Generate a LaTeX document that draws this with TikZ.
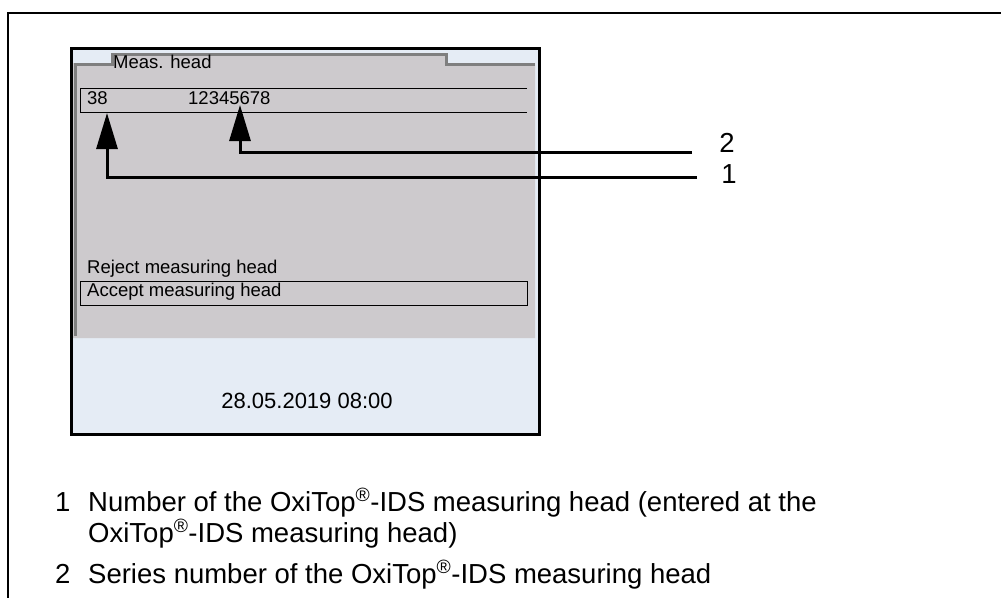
\documentclass[tikz,border=0pt]{standalone}
\usepackage{fontspec}
\setmainfont{Liberation Sans}
\usepackage{tikz}
\usetikzlibrary{arrows.meta,positioning}
\definecolor{screenbg}{HTML}{E5ECF5}
\definecolor{panel}{HTML}{CDCACD}
\definecolor{edge}{HTML}{7F7F7F}

\begin{document}
\begin{tikzpicture}[x=1pt, y=-1pt,
      scr/.style={inner sep=0pt, anchor=base west, font=\fontsize{18.5}{22}\selectfont},
      datum/.style={inner sep=0pt, anchor=base, font=\fontsize{22}{26}\selectfont},
      item/.style={inner sep=0pt, anchor=base west, font=\fontsize{27.5}{31}\selectfont},
      callnum/.style={inner sep=0pt, anchor=base, font=\fontsize{27.5}{31}\selectfont},
      callout/.style={-{Triangle[width=21pt, length=36pt]}, line width=3pt}
    ]
      \useasboundingbox (0,0) rectangle (1001,598);
      % page frame
      \draw[line width=2pt] (1001,12.5) -- (8,12.5) -- (8,598);

      % display: background, grey panel with tab, edge and border
      \fill[screenbg] (70,47) rectangle (541,436);
      \fill[panel] (73,63) -- (111,63) -- (111,53) -- (447,53) -- (447,63)
                   -- (535,63) -- (535,338) -- (73,338) -- cycle;
      \draw[edge, line width=3pt] (75,336) -- (75,64.5) -- (112,64.5) -- (112,54.5)
                   -- (446,54.5) -- (446,64.5) -- (535,64.5);
      \draw[line width=3.5pt] (71.5,48.5) rectangle (539.5,434.5);

      % selection lines
      \draw[line width=1pt] (527,88) -- (80,88) -- (80,112) -- (527,112);
      \draw[line width=1pt] (80,281) rectangle (527,305);

      % display texts
      \node[scr] (title) at (113,68) {Meas. head};
      \node[scr] (headno) at (87,104) {38};
      \node[scr] (serial) at (188,104) {12345678};
      \node[scr] (reject) at (87,273) {Reject measuring head};
      \node[scr] (accept) at (87,296) {Accept measuring head};
      \node[datum] (date) at (307,408) {28.05.2019 08:00};

      % callouts
      \coordinate (tip1) at (107,113);
      \coordinate (tip2) at (240,105);
      \coordinate (lead1) at (697,177);
      \coordinate (lead2) at (692,152.5);
      \draw[callout] (lead2) -| (tip2);
      \draw[callout] (lead1) -| (tip1);
      \node[callnum] (num2) at (727,152) {2};
      \node[callnum] (num1) at (729,183) {1};

      % legend
      \node[item] (key1) at (55,511) {1};
      \node[item] (text1a) at (88,511) {Number of the OxiTop\textsuperscript{®}-IDS measuring head (entered at the};
      \node[item] (text1b) at (88,542) {OxiTop\textsuperscript{®}-IDS measuring head)};
      \node[item] (key2) at (55,583) {2};
      \node[item] (text2) at (88,583) {Series number of the OxiTop\textsuperscript{®}-IDS measuring head};
    \end{tikzpicture}
\end{document}
